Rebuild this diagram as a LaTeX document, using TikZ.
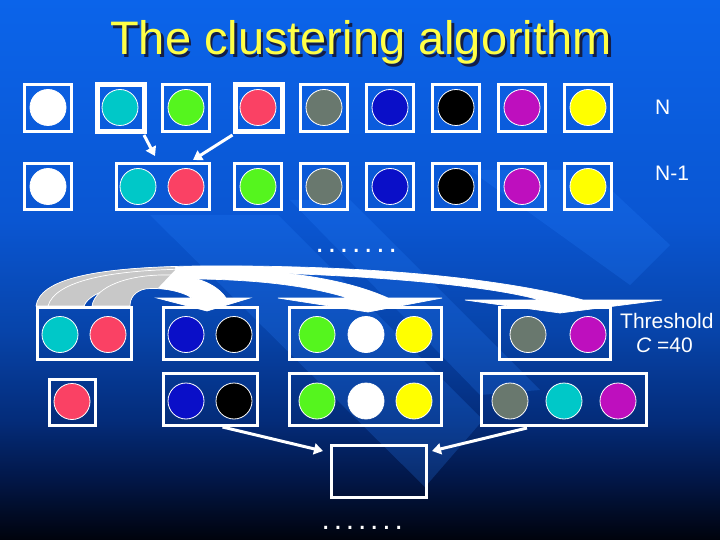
\documentclass[tikz,border=0pt]{standalone}
\usepackage{fontspec}
\setmainfont{Liberation Sans}
\usetikzlibrary{arrows.meta,calc}
\definecolor{bg0}{RGB}{0,3,12}
\definecolor{bg1}{RGB}{2,22,70}
\definecolor{bg2}{RGB}{4,44,122}
\definecolor{bg3}{RGB}{7,68,170}
\definecolor{bg4}{RGB}{10,86,210}
\definecolor{bg5}{RGB}{11,100,234}
\definecolor{stripec}{RGB}{40,130,255}
\definecolor{cCyan}{RGB}{0,200,200}
\definecolor{cGreen}{RGB}{85,245,30}
\definecolor{cRed}{RGB}{250,65,100}
\definecolor{cGray}{RGB}{105,120,110}
\definecolor{cBlue}{RGB}{10,15,200}
\definecolor{cMagenta}{RGB}{190,15,190}
\definecolor{cYellow}{RGB}{255,255,0}
\definecolor{titleY}{RGB}{255,255,70}
\definecolor{titleS}{RGB}{20,30,70}
\definecolor{bandgray}{RGB}{200,200,200}
\pgfdeclareverticalshading{bgshade}{100bp}{color(0bp)=(bg0); color(25bp)=(bg0); color(30.5bp)=(bg1); color(36.1bp)=(bg2); color(44.4bp)=(bg3); color(54.6bp)=(bg4); color(75bp)=(bg5); color(100bp)=(bg5)}
\def\bandDpath{(36,306) .. controls (40,280) and (90,267) .. (200,266) .. controls (330,265) and (480,273) .. (583,300) -- (662,300) -- (560,313) -- (465,300) -- (540,300) .. controls (480,283) and (330,272) .. (200,272) .. controls (110,273) and (78,285) .. (72,306) -- cycle}
\def\bandCpath{(48,306) .. controls (55,281) and (110,269) .. (200,269) .. controls (290,269) and (350,281) .. (388,298) -- (442,298) -- (368,312) -- (278,298) -- (348,298) .. controls (310,286) and (260,280) .. (200,279) .. controls (130,279) and (90,290) .. (84,306) -- cycle}
\def\bandBpath{(92,306) .. controls (95,286) and (130,274) .. (170,275) .. controls (200,276) and (218,286) .. (226,298) -- (250,298) -- (207,311) -- (157,298) -- (192,298) .. controls (182,291) and (160,287) .. (145,289) .. controls (135,291) and (130,298) .. (130,306) -- cycle}
\newcommand\dotrow{.\kern3.8pt.\kern3.8pt.\kern3.8pt.\kern3.8pt.\kern3.8pt.\kern3.8pt.}
\begin{document}
\begin{tikzpicture}[x=1pt,y=-1pt,
  bx/.style={draw=white,line width=3pt,minimum width=47pt,minimum height=47pt,inner sep=0pt},
  bxthick/.style={bx,line width=5pt},
  ball/.style={circle,draw=white,line width=0.8pt,minimum size=36pt,inner sep=0pt},
  arr/.style={draw=white,line width=3pt,-{Triangle[length=9pt,width=11pt]}},
  lbl/.style={text=white,font=\fontsize{21}{24}\selectfont,inner sep=0pt},
  dotsrow/.style={text=white,font=\fontsize{30}{30}\selectfont,inner sep=0pt,anchor=base west},
  stripe/.style={fill=stripec,fill opacity=0.22},
  bandline/.style={draw=white,line width=0.7pt}]
\useasboundingbox (0,0) rectangle (720,540);
\shade[shading=bgshade] (0,0) rectangle (720,540);
% diagonal light stripes
\fill[stripe] (150,215) -- (278,215) -- (483,420) -- (425,487) -- cycle;
\fill[stripe] (290,200) -- (350,200) -- (540,390) -- (480,395) -- cycle;
\fill[stripe] (470,170) -- (590,170) -- (670,245) -- (630,285) -- cycle;
% title
\node[font=\fontsize{47}{52}\selectfont,text=titleS,anchor=base,inner sep=0pt] at (363.5,57.5) {The clustering algorithm};
\node[font=\fontsize{47}{52}\selectfont,text=titleY,anchor=base,inner sep=0pt] (title) at (361,55) {The clustering algorithm};
% row 1
\node[bx] (r1b1) at (48,108) {};
\node[bxthick] (r1b2) at (121,108) {};
\node[bx] (r1b3) at (186,108) {};
\node[bxthick] (r1b4) at (258.5,108) {};
\node[bx] (r1b5) at (324,108) {};
\node[bx] (r1b6) at (390,108) {};
\node[bx] (r1b7) at (456,108) {};
\node[bx] (r1b8) at (522,108) {};
\node[bx] (r1b9) at (588,108) {};
\node[ball,fill=white] (r1c1) at (48,107.5) {};
\node[ball,fill=cCyan] (r1c2) at (120,107.5) {};
\node[ball,fill=cGreen] (r1c3) at (186,107.5) {};
\node[ball,fill=cRed] (r1c4) at (258,107.5) {};
\node[ball,fill=cGray] (r1c5) at (324,107.5) {};
\node[ball,fill=cBlue] (r1c6) at (390,107.5) {};
\node[ball,fill=black] (r1c7) at (456,107.5) {};
\node[ball,fill=cMagenta] (r1c8) at (522,107.5) {};
\node[ball,fill=cYellow] (r1c9) at (588,107.5) {};
\node[lbl,anchor=base west] (tN) at (655,115) {N};
% row 2
\node[bx,minimum height=46pt] (r2b1) at (48,186.5) {};
\node[bx,minimum height=46pt,minimum width=93pt] (r2m) at (163,186.5) {};
\node[bx,minimum height=46pt] (r2b3) at (258,186.5) {};
\node[bx,minimum height=46pt] (r2b4) at (324,186.5) {};
\node[bx,minimum height=46pt] (r2b5) at (390,186.5) {};
\node[bx,minimum height=46pt] (r2b6) at (456,186.5) {};
\node[bx,minimum height=46pt] (r2b7) at (522,186.5) {};
\node[bx,minimum height=46pt] (r2b8) at (588,186.5) {};
\node[ball,fill=white] (r2c1) at (48,186.5) {};
\node[ball,fill=cCyan] (r2c2) at (138,186.5) {};
\node[ball,fill=cRed] (r2c3) at (186,186.5) {};
\node[ball,fill=cGreen] (r2c4) at (258,186.5) {};
\node[ball,fill=cGray] (r2c5) at (324,186.5) {};
\node[ball,fill=cBlue] (r2c6) at (390,186.5) {};
\node[ball,fill=black] (r2c7) at (456,186.5) {};
\node[ball,fill=cMagenta] (r2c8) at (522,186.5) {};
\node[ball,fill=cYellow] (r2c9) at (588,186.5) {};
\node[lbl,anchor=base west] (tN1) at (655,181) {N-1};
% merge arrows
\coordinate (m1) at (155,156);
\coordinate (m2) at (193,160);
\draw[arr] ($(r1b2.south east)+(-3,1)$) -- (m1);
\draw[arr] ($(r1b4.south west)+(0,1)$) -- (m2);
% dots
\node[dotsrow] (dotsA) at (315.5,252) {\dotrow};
% curved block arrows
\fill[white] \bandDpath;
\begin{scope}\clip (0,0) -- (175,0) -- (175,270) -- (135,312) -- (0,312) -- cycle; \fill[bandgray] \bandDpath; \end{scope}
\draw[bandline] \bandDpath;
\fill[white] \bandCpath;
\begin{scope}\clip (0,0) -- (175,0) -- (175,270) -- (135,312) -- (0,312) -- cycle; \fill[bandgray] \bandCpath; \end{scope}
\draw[bandline] \bandCpath;
\fill[white] \bandBpath;
\begin{scope}\clip (0,0) -- (175,0) -- (175,270) -- (135,312) -- (0,312) -- cycle; \fill[bandgray] \bandBpath; \end{scope}
\draw[bandline] \bandBpath;
% clusters, upper
\node[bx,minimum width=94pt,minimum height=52pt] (cA) at (84.5,333.5) {};
\node[bx,minimum width=94pt,minimum height=52pt] (cB) at (210.5,333.5) {};
\node[bx,minimum width=152pt,minimum height=52pt] (cC) at (365.5,333.5) {};
\node[bx,minimum width=111pt,minimum height=52pt] (cD) at (555,333.5) {};
\node[ball,fill=cCyan] (a1) at (60,334.5) {};
\node[ball,fill=cRed] (a2) at (108,334.5) {};
\node[ball,fill=cBlue] (b1) at (186,334.5) {};
\node[ball,fill=black] (b2) at (234,334.5) {};
\node[ball,fill=cGreen] (c1) at (317,334.5) {};
\node[ball,fill=white] (c2) at (366,334.5) {};
\node[ball,fill=cYellow] (c3) at (414,334.5) {};
\node[ball,fill=cGray] (d1) at (528,334.5) {};
\node[ball,fill=cMagenta] (d2) at (588,334.5) {};
\node[lbl,anchor=base west] (tTh) at (620,328) {Threshold};
\node[lbl,anchor=base west] (tC) at (636,352) {{\itshape C} =40};
% clusters, lower
\node[bx,minimum width=46pt,minimum height=46pt] (cE) at (72.5,402.5) {};
\node[bx,minimum width=94pt,minimum height=52pt] (cF) at (210.5,399.5) {};
\node[bx,minimum width=152pt,minimum height=52pt] (cG) at (365.5,399.5) {};
\node[bx,minimum width=165pt,minimum height=52pt] (cH) at (564,399.5) {};
\node[ball,fill=cRed] (e1) at (72,401.5) {};
\node[ball,fill=cBlue] (f1) at (186,401) {};
\node[ball,fill=black] (f2) at (234,401) {};
\node[ball,fill=cGreen] (g1) at (317,401) {};
\node[ball,fill=white] (g2) at (366,401) {};
\node[ball,fill=cYellow] (g3) at (414,401) {};
\node[ball,fill=cGray] (h1) at (510,401) {};
\node[ball,fill=cCyan] (h2) at (564,401) {};
\node[ball,fill=cMagenta] (h3) at (618,401) {};
% output box
\node[bx,minimum width=95pt,minimum height=52pt] (out) at (379,471.5) {};
\coordinate (o1) at (323,451);
\coordinate (o2) at (432,451);
\draw[arr] ($(cF.south)+(12,0)$) -- (o1);
\draw[arr] ($(cH.south)+(-37,1)$) -- (o2);
\node[dotsrow] (dotsB) at (321.5,529) {\dotrow};
\end{tikzpicture}
\end{document}
